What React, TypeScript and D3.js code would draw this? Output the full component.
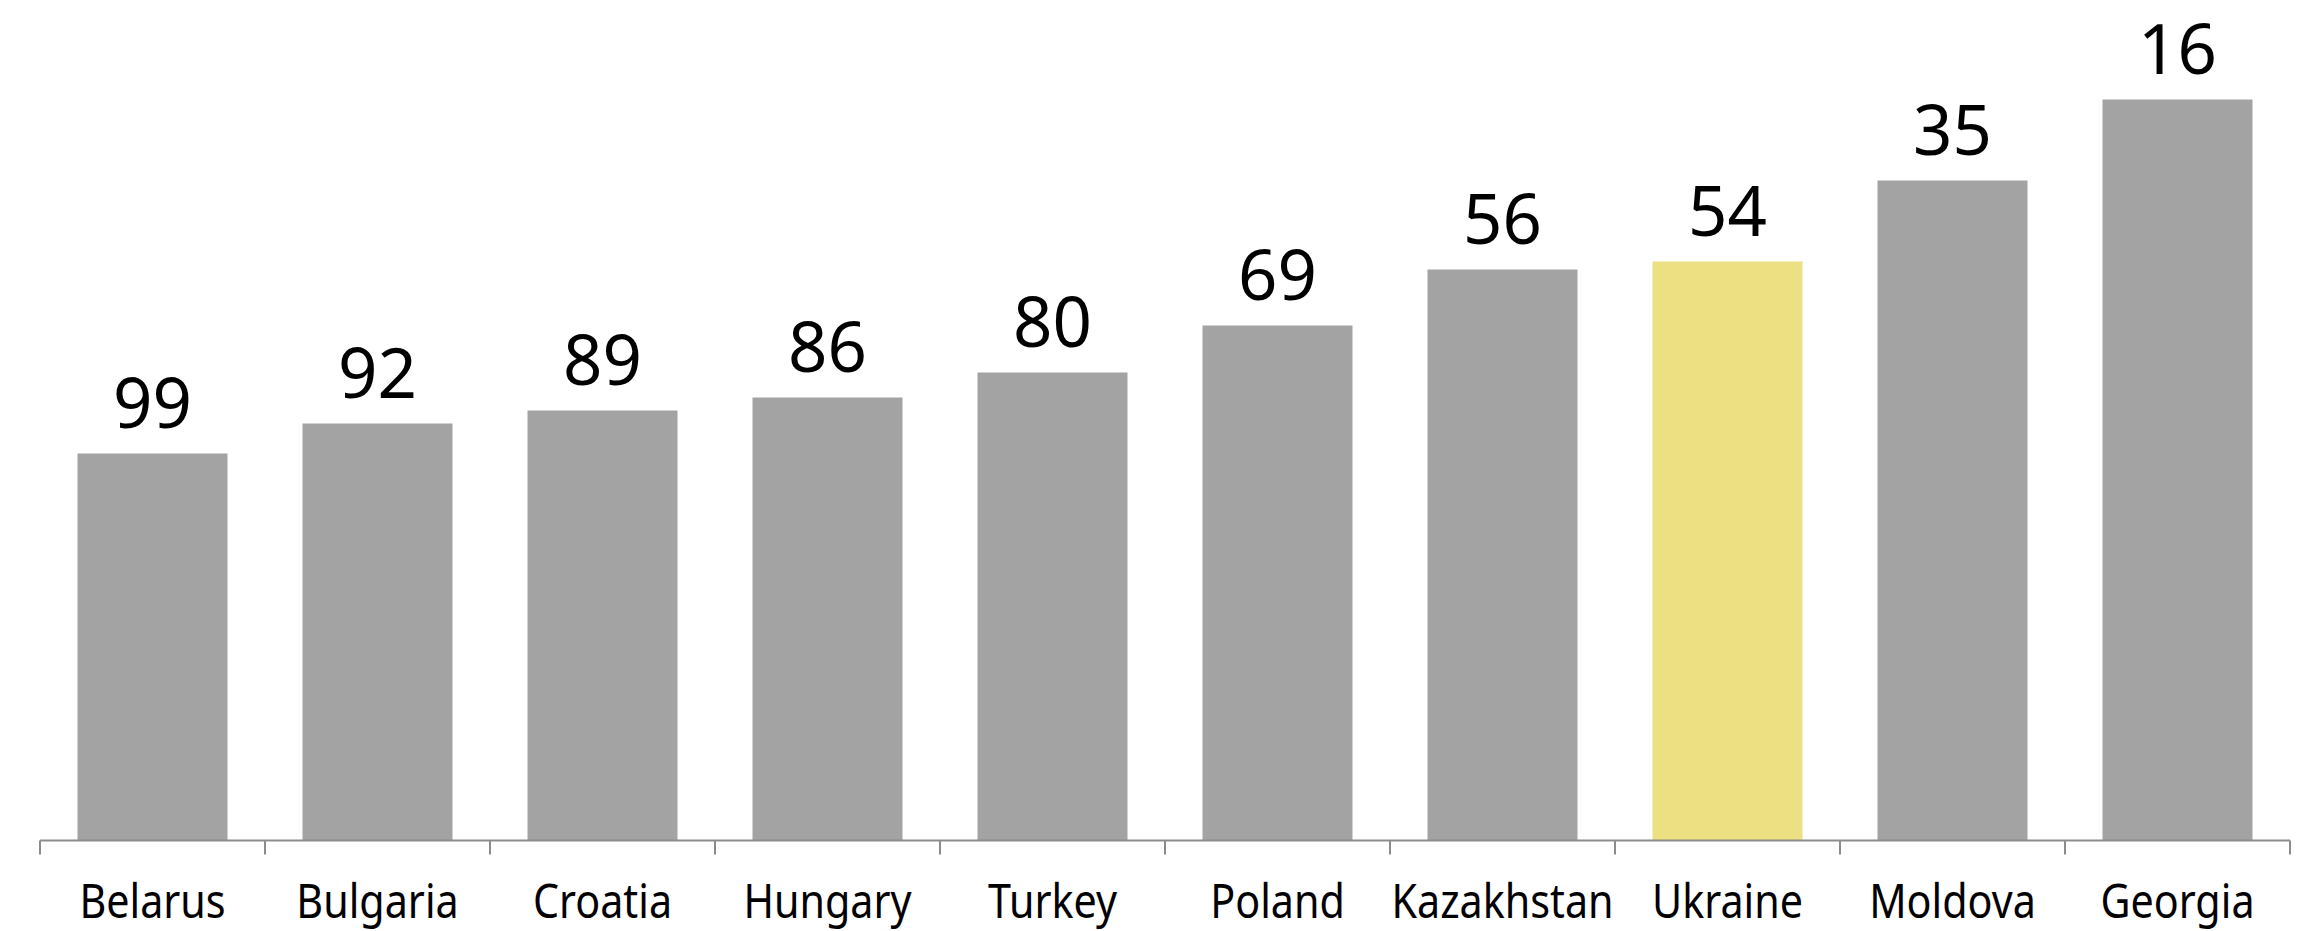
import { useRef, useEffect } from 'react';
import * as d3 from 'd3';

const countries = ['Belarus', 'Bulgaria', 'Croatia', 'Hungary', 'Turkey', 'Poland', 'Kazakhstan', 'Ukraine', 'Moldova', 'Georgia'];
const scores = [38.7, 41.7, 43.0, 44.3, 46.8, 51.5, 57.1, 57.9, 66.0, 74.1];
const ranks = [99, 92, 89, 86, 80, 69, 56, 54, 35, 16];
const highlight = 'Ukraine';

const W = 2300;
const H = 931;

function drawChart(svgEl: SVGSVGElement) {
  const svg = d3.select(svgEl);
  svg.selectAll('*').remove();

  const baseline = 840.5;

  const x = d3.scaleBand<string>()
    .domain(countries)
    .range([40, 2290])
    .paddingInner(1 / 3)
    .paddingOuter(1 / 6);

  const y = d3.scaleLinear()
    .domain([0, 80])
    .range([baseline, baseline - 800]);

  const data = countries.map((c, i) => ({ country: c, score: scores[i], rank: ranks[i] }));

  svg.append('g')
    .selectAll('rect')
    .data(data)
    .enter()
    .append('rect')
    .attr('x', (d) => x(d.country)!)
    .attr('y', (d) => y(d.score))
    .attr('width', x.bandwidth())
    .attr('height', (d) => baseline - y(d.score))
    .attr('fill', (d) => (d.country === highlight ? '#ece083' : '#a3a3a3'));

  // value labels (ranks)
  svg.append('g')
    .selectAll('text')
    .data(data)
    .enter()
    .append('text')
    .attr('x', (d) => x(d.country)! + x.bandwidth() / 2)
    .attr('y', (d) => y(d.score) - 26)
    .attr('text-anchor', 'middle')
    .style('font-family', '"Noto Sans", "Open Sans", sans-serif')
    .style('font-size', '69px')
    .style('fill', '#000')
    .text((d) => String(d.rank));

  // x axis
  const axis = svg.append('g');
  axis.append('line')
    .attr('x1', 40)
    .attr('x2', 2290)
    .attr('y1', baseline)
    .attr('y2', baseline)
    .attr('stroke', '#8c8c8c')
    .attr('stroke-width', 2);

  const step = x.step();
  const tickXs = d3.range(countries.length + 1).map((i) => 40 + i * step);
  axis.selectAll('.tick')
    .data(tickXs)
    .enter()
    .append('line')
    .attr('x1', (d) => d)
    .attr('x2', (d) => d)
    .attr('y1', baseline)
    .attr('y2', baseline + 14)
    .attr('stroke', '#8c8c8c')
    .attr('stroke-width', 2);

  // condensed category labels: squeeze horizontally around the band centre
  axis.selectAll('.label')
    .data(countries)
    .enter()
    .append('text')
    .attr('transform', (d) => `translate(${x(d)! + x.bandwidth() / 2},918) scale(0.86,1)`)
    .attr('text-anchor', 'middle')
    .style('font-family', '"Noto Sans", "Open Sans", sans-serif')
    .style('font-size', '48px')
    .style('fill', '#000')
    .text((d) => d);
}

export default function App() {
  const ref = useRef<SVGSVGElement>(null);

  useEffect(() => {
    if (!ref.current) return;
    drawChart(ref.current);
  }, []);

  return (
    <>
      <style>{'body{margin:0;background:#fff}'}</style>
      <svg ref={ref} width={W} height={H} style={{ display: 'block' }} />
    </>
  );
}
